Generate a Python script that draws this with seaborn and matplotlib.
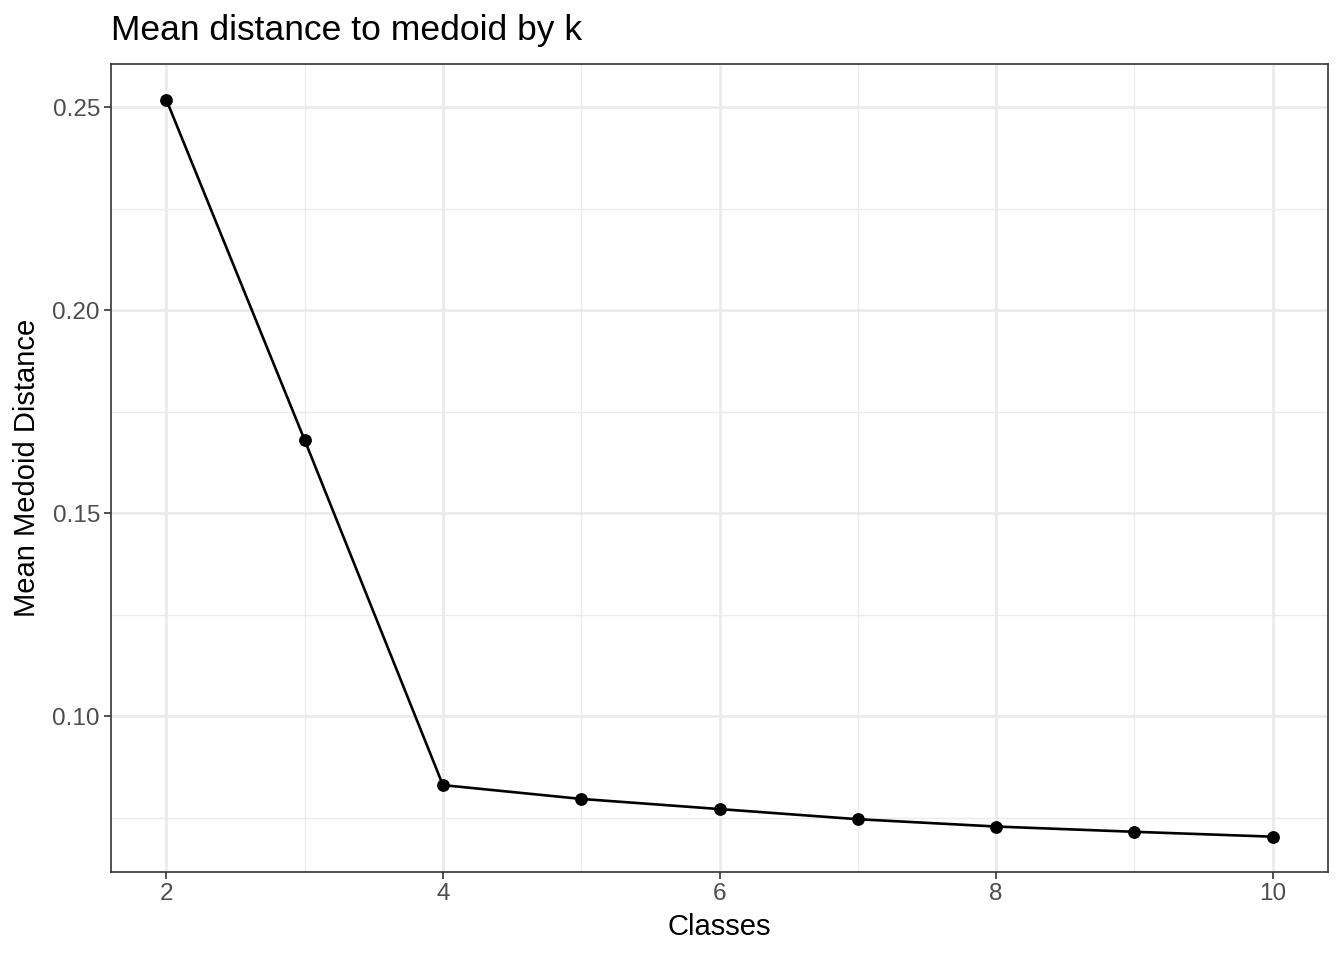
import matplotlib
matplotlib.use("Agg")
import matplotlib.pyplot as plt
import seaborn as sns
import pandas as pd
from matplotlib.ticker import FixedLocator, FormatStrFormatter

classes = [2, 3, 4, 5, 6, 7, 8, 9, 10]
mean_dist = [0.2518, 0.1680, 0.0830, 0.0796, 0.0771, 0.0746, 0.0728, 0.0715, 0.0703]
x_ticks = [2, 4, 6, 8, 10]
y_ticks = [0.10, 0.15, 0.20, 0.25]

df = pd.DataFrame({"Classes": classes, "Mean Medoid Distance": mean_dist})

sns.set_theme(style="white")
plt.rcParams['font.family'] = ['Liberation Sans', 'DejaVu Sans']

fig = plt.figure(figsize=(13.44, 9.6), dpi=100)
ax = fig.add_axes([111/1344, 1-872/960, (1328-111)/1344, (872-64)/960])

sns.lineplot(data=df, x="Classes", y="Mean Medoid Distance", ax=ax,
             color="black", linewidth=1.9, zorder=3)
sns.scatterplot(data=df, x="Classes", y="Mean Medoid Distance", ax=ax,
                color="black", s=85, edgecolor="black", linewidth=0, zorder=4)

ax.set_xlim(1.6, 10.4)
ax.set_ylim(0.0616, 0.2606)
ax.xaxis.set_major_locator(FixedLocator(x_ticks))
ax.yaxis.set_major_locator(FixedLocator(y_ticks))
ax.xaxis.set_minor_locator(FixedLocator([3, 5, 7, 9]))
ax.yaxis.set_minor_locator(FixedLocator([0.075, 0.125, 0.175, 0.225]))
ax.yaxis.set_major_formatter(FormatStrFormatter('%.2f'))
ax.xaxis.set_major_formatter(FormatStrFormatter('%d'))

ax.grid(which='major', color='#EBEBEB', linewidth=2.0)
ax.grid(which='minor', color='#EBEBEB', linewidth=1.0)
ax.set_axisbelow(True)

for s in ax.spines.values():
    s.set_color('#333333')
    s.set_linewidth(1.2)

ax.tick_params(which='major', length=5, width=1.2, color='#333333',
               labelsize=17.5, labelcolor='#4D4D4D', pad=3,
               bottom=True, left=True)
ax.tick_params(which='minor', length=0)

ax.set_xlabel("Classes", fontsize=21, color='black', labelpad=6)
ax.set_ylabel("Mean Medoid Distance", fontsize=21, color='black', labelpad=8)
ax.set_title("Mean distance to medoid by k", fontsize=25.5, color='black',
             loc='left', pad=17)

fig.savefig("out.png", dpi=100)
